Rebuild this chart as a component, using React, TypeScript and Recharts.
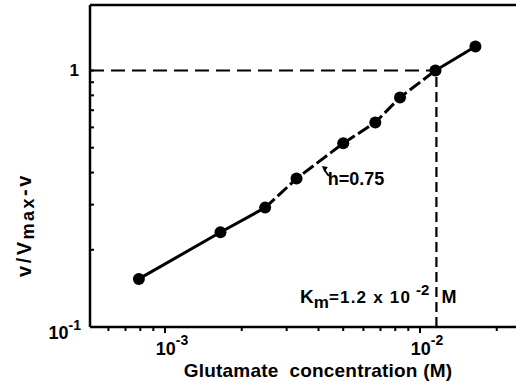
import React from 'react';
import { ComposedChart, Line, Scatter, XAxis, YAxis, ReferenceLine, ReferenceDot, Label } from 'recharts';

// glutamate concentration (M) and v/(Vmax - v)
const concentration = [7.9e-4, 1.65e-3, 2.47e-3, 3.28e-3, 5.0e-3, 6.68e-3, 8.35e-3, 1.15e-2, 1.65e-2];
const ratio = [0.154, 0.234, 0.292, 0.379, 0.52, 0.627, 0.785, 1.0, 1.24];

const xTicks = [6e-4, 7e-4, 8e-4, 9e-4, 1e-3, 2e-3, 3e-3, 4e-3, 5e-3, 6e-3, 7e-3, 8e-3, 9e-3, 1e-2, 2e-2];
const xMajorTicks = [1e-3, 1e-2];
const xMajorExp = ['-3', '-2'];

const yTicks = [0.1, 0.2, 0.3, 0.4, 0.5, 0.6, 0.7, 0.8, 0.9, 1];
const yMajorTicks = [0.1, 1];

const X_MIN = 5.08e-4;
const X_MAX = 0.0238;
const Y_MIN = 0.1;
const Y_MAX = 1.8;
const KM_X = 0.0116;
const H_ANCHOR = { x: 4.12e-3, y: 0.424 };
const KM_LABEL_Y = 0.124;

const points = concentration.map((x, i) => ({ x, y: ratio[i] }));
const lowSegment = points.slice(0, 3);
const midSegment = points.slice(2, 8);
const highSegment = points.slice(7);

const FONT = '"Liberation Sans", Arial, Helvetica, sans-serif';
const INK = '#000';

const XTick = ({ x, y, payload }: any) => {
  const i = xMajorTicks.indexOf(payload.value);
  return (
    <g>
      <line x1={x} y1={y} x2={x} y2={y + (i >= 0 ? 6 : 4)} stroke={INK} strokeWidth={2} />
      {i >= 0 && (
        <text x={x + 7} y={y + 28} textAnchor="middle" fontFamily={FONT} fontWeight={700} fontSize={18} fill={INK}>
          10<tspan dy={-10} fontSize={14}>{xMajorExp[i]}</tspan>
        </text>
      )}
    </g>
  );
};

const YTick = ({ x, y, payload }: any) => {
  const i = yMajorTicks.indexOf(payload.value);
  return (
    <g>
      <line x1={x} y1={y} x2={x + 4} y2={y} stroke={INK} strokeWidth={2} />
      {payload.value === 1 && (
        <text x={x - 11} y={y + 6} textAnchor="end" fontFamily={FONT} fontWeight={700} fontSize={17} fill={INK}>1</text>
      )}
      {i === 0 && (
        <text x={x - 9} y={y + 12} textAnchor="end" fontFamily={FONT} fontWeight={700} fontSize={18} fill={INK}>
          10<tspan dy={-9} fontSize={14}>-1</tspan>
        </text>
      )}
    </g>
  );
};

const Dot = (props: any) => <circle cx={props.cx} cy={props.cy} r={6} fill={INK} />;

const HillNote = ({ cx, cy }: any) => (
  <g>
    <line x1={cx + 7} y1={cy + 10} x2={cx + 2} y2={cy + 3} stroke={INK} strokeWidth={1.8} />
    <path d={`M ${cx} ${cy} l 6 1 l -3 5 z`} fill={INK} />
    <text x={cx + 6} y={cy + 19} fontFamily={FONT} fontWeight={700} fontSize={18} fill={INK}>h=0.75</text>
  </g>
);

const KmNote = ({ cx, cy }: any) => (
  <g fontFamily={FONT} fontWeight={700} fill={INK}>
    <text x={cx - 7} y={cy} textAnchor="end" fontSize={19}>
      K<tspan dy={5} fontSize={17}>m</tspan>
      <tspan dy={-5} fontSize={17} letterSpacing={1.2}>=1.2 x 10</tspan>
      <tspan dx={5} dy={-8} fontSize={15}>-2</tspan>
    </text>
    <text x={cx + 5} y={cy} fontSize={18}>M</text>
  </g>
);

export default function App() {
  return (
    <div style={{ position: 'absolute', left: 0, top: 0, background: '#fff' }}>
      <ComposedChart width={516} height={383} margin={{ top: 5, right: 0, bottom: 0, left: 0 }}>
        <XAxis
          type="number"
          dataKey="x"
          scale="log"
          domain={[X_MIN, X_MAX]}
          allowDataOverflow
          ticks={xTicks}
          interval={0}
          tickSize={0}
          tickMargin={0}
          tickLine={false}
          tick={<XTick />}
          axisLine={{ stroke: INK, strokeWidth: 2.5 }}
          height={56}
        >
          <Label
            content={({ viewBox }: any) => (
              <text
                x={viewBox.x + 228}
                y={viewBox.y + 50}
                textAnchor="middle"
                fontFamily={FONT}
                fontWeight={700}
                fontSize={19}
                letterSpacing={0.2}
                fill={INK}
                style={{ whiteSpace: 'pre' }}
              >
                {'Glutamate  concentration (M)'}
              </text>
            )}
          />
        </XAxis>
        <YAxis
          type="number"
          dataKey="y"
          scale="log"
          domain={[Y_MIN, Y_MAX]}
          allowDataOverflow
          ticks={yTicks}
          interval={0}
          tickSize={0}
          tickMargin={0}
          tickLine={false}
          tick={<YTick />}
          axisLine={{ stroke: INK, strokeWidth: 2.5 }}
          width={90}
        >
          <Label
            content={({ viewBox }: any) => {
              const cx = viewBox.x + 31;
              const cy = viewBox.y + 220;
              return (
                <text
                  x={cx}
                  y={cy}
                  transform={`rotate(-90 ${cx} ${cy})`}
                  textAnchor="middle"
                  fontFamily={FONT}
                  fontWeight={700}
                  fontSize={20}
                  letterSpacing={2.5}
                  fill={INK}
                >
                  v/V<tspan dy={3} fontSize={18}>max</tspan>
                  <tspan dy={-3}>-v</tspan>
                </text>
              );
            }}
          />
        </YAxis>
        <ReferenceLine y={Y_MAX} stroke={INK} strokeWidth={2.5} />
        <ReferenceLine
          segment={[{ x: X_MIN, y: 1 }, { x: KM_X, y: 1 }]}
          stroke={INK}
          strokeWidth={2.2}
          strokeDasharray="14 7"
        />
        <ReferenceLine
          segment={[{ x: KM_X, y: Y_MIN }, { x: KM_X, y: 1 }]}
          stroke={INK}
          strokeWidth={2.2}
          strokeDasharray="10 5"
        />
        <Line data={lowSegment} dataKey="y" type="linear" stroke={INK} strokeWidth={3} dot={false} isAnimationActive={false} />
        <Line data={midSegment} dataKey="y" type="linear" stroke={INK} strokeWidth={3} strokeDasharray="13 4" dot={false} isAnimationActive={false} />
        <Line data={highSegment} dataKey="y" type="linear" stroke={INK} strokeWidth={3} dot={false} isAnimationActive={false} />
        <Scatter data={points} dataKey="y" shape={<Dot />} isAnimationActive={false} />
        <ReferenceDot x={H_ANCHOR.x} y={H_ANCHOR.y} r={0} shape={<HillNote />} />
        <ReferenceDot x={KM_X} y={KM_LABEL_Y} r={0} shape={<KmNote />} />
      </ComposedChart>
    </div>
  );
}
